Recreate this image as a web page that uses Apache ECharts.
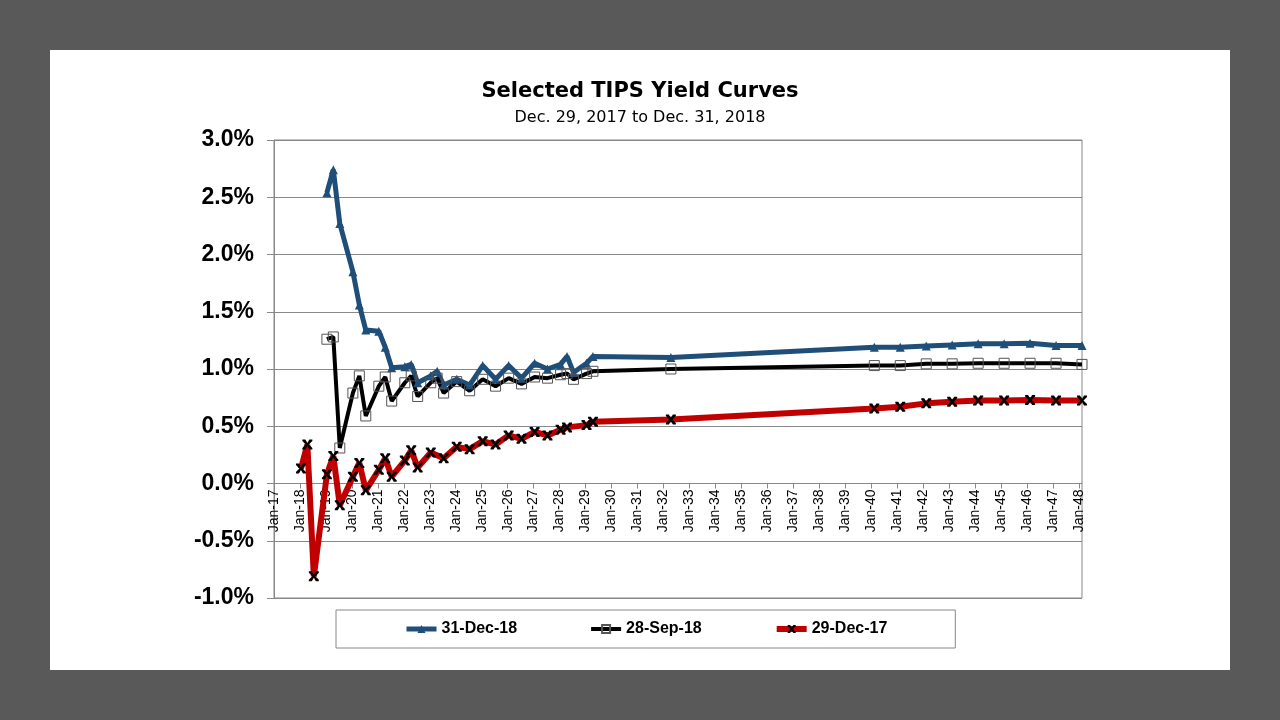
<!DOCTYPE html>
<html>
<head>
<meta charset="utf-8">
<title>Selected TIPS Yield Curves</title>
<script src="https://cdn.jsdelivr.net/npm/echarts@6/dist/echarts.min.js"></script>
<style>
  html, body { margin: 0; padding: 0; background: #595959; }
  #chart { position: absolute; left: 50px; top: 50px; width: 1180px; height: 620px; background: #fff; }
</style>
</head>
<body>
<div id="chart"></div>
<script>
// maturity dates of the TIPS issues shown on the curves
const maturities = [
  '2018-01-15', '2018-04-15', '2018-07-15',
  '2019-01-15', '2019-04-15', '2019-07-15',
  '2020-01-15', '2020-04-15', '2020-07-15',
  '2021-01-15', '2021-04-15', '2021-07-15',
  '2022-01-15', '2022-04-15', '2022-07-15',
  '2023-01-15', '2023-04-15', '2023-07-15',
  '2024-01-15', '2024-07-15',
  '2025-01-15', '2025-07-15',
  '2026-01-15', '2026-07-15',
  '2027-01-15', '2027-07-15',
  '2028-01-15', '2028-04-15', '2028-07-15',
  '2029-01-15', '2029-04-15',
  '2032-04-15',
  '2040-02-15', '2041-02-15', '2042-02-15', '2043-02-15', '2044-02-15',
  '2045-02-15', '2046-02-15', '2047-02-15', '2048-02-15'
];

// real yields in percent, null where the issue is not in that curve
const dec18 = [
  null, null, null,
  2.54, 2.74, 2.27,
  1.85, 1.56, 1.34,
  1.33, 1.19, 1.01,
  1.02, 1.04, 0.88,
  0.94, 0.98, 0.86,
  0.91, 0.86,
  1.03, 0.91,
  1.03, 0.92,
  1.05, 1.00,
  1.04, 1.11, 0.97,
  1.05, 1.11,
  1.10,
  1.19, 1.19, 1.20, 1.21, 1.22, 1.22, 1.225, 1.205, 1.205
];
const sep18 = [
  null, null, null,
  1.26, 1.28, 0.31,
  0.79, 0.94, 0.59,
  0.85, 0.93, 0.72,
  0.88, 0.94, 0.76,
  0.88, 0.92, 0.79,
  0.89, 0.81,
  0.91, 0.85,
  0.92, 0.87,
  0.93, 0.92,
  0.95, 0.96, 0.91,
  0.96, 0.98,
  1.00,
  1.03, 1.03, 1.045, 1.045, 1.05, 1.05, 1.05, 1.05, 1.04
];
const dec17 = [
  0.13, 0.34, -0.81,
  0.08, 0.24, -0.19,
  0.06, 0.18, -0.06,
  0.12, 0.22, 0.06,
  0.20, 0.29, 0.14,
  0.27, null, 0.22,
  0.32, 0.30,
  0.37, 0.34,
  0.42, 0.39,
  0.45, 0.42,
  0.47, 0.49, null,
  0.51, 0.54,
  0.56,
  0.655, 0.67, 0.70, 0.715, 0.725, 0.725, 0.73, 0.725, 0.725
];

const seriesNames = ['31-Dec-18', '28-Sep-18', '29-Dec-17'];
const firstYear = 2017;
const yMin = -1;
const yMax = 3;

// date string -> fractional year, so the x axis is a plain date scale
function toYear(s) {
  const d = new Date(s + 'T00:00:00Z');
  const y = d.getUTCFullYear();
  const start = Date.UTC(y, 0, 1);
  const end = Date.UTC(y + 1, 0, 1);
  return y + (d.getTime() - start) / (end - start);
}

function pairs(values) {
  return maturities.map((m, i) => [toYear(m), values[i]]);
}

const lastYear = toYear(maturities[maturities.length - 1]);
const gridHeight = 458;
// the date labels hang from the 0% line, as in the original
const zeroOffset = -gridHeight * (0 - yMin) / (yMax - yMin);
const xCross = 'path://M0,0 L3,0 L5,3.5 L7,0 L10,0 L10,1.5 L6.5,5 L10,8.5 L10,10 L7,10 L5,6.5 L3,10 L0,10 L0,8.5 L3.5,5 L0,1.5 Z';
const lineWidths = [5, 4, 6];

const chart = echarts.init(document.getElementById('chart'));
chart.setOption({
  animation: false,
  title: {
    text: 'Selected TIPS Yield Curves',
    subtext: 'Dec. 29, 2017 to Dec. 31, 2018',
    left: 'center',
    top: 30,
    padding: 0,
    itemGap: 5,
    textStyle: {fontFamily: 'DejaVu Sans', fontWeight: 'bold', fontSize: 21, lineHeight: 24, color: '#000'},
    subtextStyle: {fontFamily: 'DejaVu Sans', fontSize: 16, lineHeight: 18, color: '#000'}
  },
  legend: {
    data: seriesNames.map((name, i) => ({name, lineStyle: {width: lineWidths[i]}})),
    left: 286,
    top: 560,
    padding: [11, 68],
    itemGap: 72,
    itemWidth: 30,
    itemHeight: 10,
    borderColor: '#888',
    borderWidth: 1,
    textStyle: {fontFamily: 'Liberation Sans', fontWeight: 'bold', fontSize: 16, color: '#000'}
  },
  grid: {
    left: 224,
    top: 90,
    width: 808,
    height: gridHeight,
    show: true,
    borderColor: '#888',
    borderWidth: 1
  },
  xAxis: {
    type: 'value',
    min: firstYear,
    max: lastYear,
    interval: 1,
    offset: zeroOffset,
    axisLine: {onZero: false, lineStyle: {color: '#888'}},
    axisTick: {show: true, length: 5, lineStyle: {color: '#888'}},
    splitLine: {show: false},
    axisLabel: {
      rotate: 90,
      margin: 6,
      showMaxLabel: false,
      fontFamily: 'Liberation Sans',
      fontSize: 14,
      color: '#000',
      formatter: (v) => Number.isInteger(v) ? 'Jan-' + String(v).slice(2) : ''
    }
  },
  yAxis: {
    type: 'value',
    min: yMin,
    max: yMax,
    interval: 0.5,
    axisLine: {show: true, onZero: false, lineStyle: {color: '#888'}},
    axisTick: {show: true, length: 7, lineStyle: {color: '#888'}},
    splitLine: {lineStyle: {color: '#888', width: 1}},
    axisLabel: {
      margin: 20,
      fontFamily: 'Liberation Sans',
      fontWeight: 'bold',
      fontSize: 23,
      color: '#000',
      formatter: (v) => v.toFixed(1) + '%'
    }
  },
  series: [
    {
      name: seriesNames[0],
      type: 'line',
      data: pairs(dec18),
      connectNulls: true,
      symbol: 'triangle',
      symbolSize: 9,
      lineStyle: {color: '#1f4e79', width: lineWidths[0]},
      itemStyle: {color: '#1f4e79'}
    },
    {
      name: seriesNames[1],
      type: 'line',
      data: pairs(sep18),
      connectNulls: true,
      symbol: 'rect',
      symbolSize: 10,
      lineStyle: {color: '#000', width: lineWidths[1]},
      itemStyle: {color: 'rgba(255,255,255,0)', borderColor: '#555', borderWidth: 1}
    },
    {
      name: seriesNames[2],
      type: 'line',
      data: pairs(dec17),
      connectNulls: true,
      symbol: xCross,
      symbolSize: 10,
      lineStyle: {color: '#c00000', width: lineWidths[2]},
      itemStyle: {color: '#000'}
    }
  ]
});
</script>
</body>
</html>
